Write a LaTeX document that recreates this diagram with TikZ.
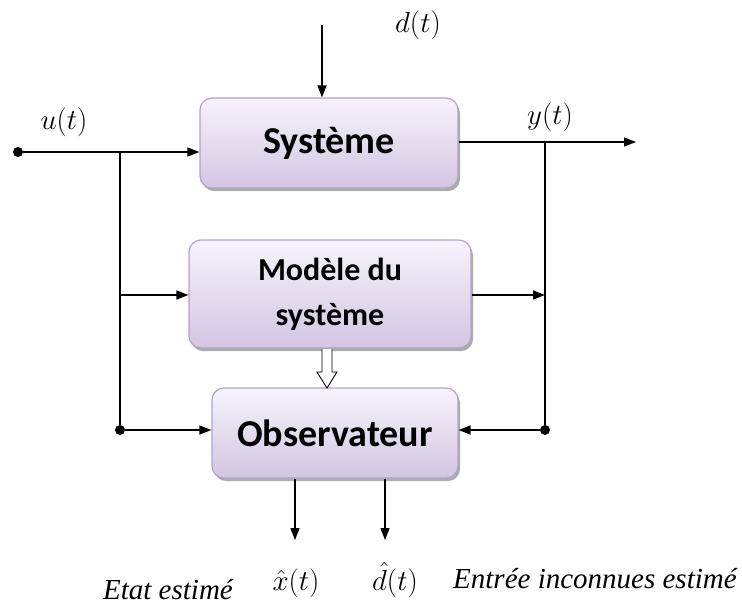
\documentclass[tikz,border=0pt]{standalone}
\usepackage{fix-cm}
\usepackage{fontspec}
\setsansfont{Carlito}
\newfontface\timesit{Liberation Serif Italic}
\usetikzlibrary{arrows.meta,shadows}
\begin{document}
\begin{tikzpicture}[x=1pt,y=-1pt,
  blk/.style={draw=boxborder,line width=1.2pt,rounded corners=12pt,top color=boxtop,bottom color=boxbot,
    drop shadow={shadow xshift=2pt,shadow yshift=-3pt,fill=black!55,opacity=0.6},
    font=\sffamily\bfseries,align=center,inner sep=0pt},
  wire/.style={line width=1.3pt,-{Triangle[length=12pt,width=9pt]}},
  plain/.style={line width=1.3pt},
  jdot/.style={circle,fill=black,inner sep=0pt,minimum size=10pt},
  lab/.style={font=\fontsize{29}{33}\selectfont,inner sep=1pt},
  itl/.style={font=\timesit\fontsize{29}{32}\selectfont,inner sep=1pt}]
\definecolor{boxtop}{HTML}{F7F3FB}
\definecolor{boxbot}{HTML}{D2C5E2}
\definecolor{boxborder}{HTML}{B4A2CC}
\useasboundingbox (0,0) rectangle (742,606);
% blocks
\node[blk,minimum width=258pt,minimum height=90pt,font=\sffamily\bfseries\fontsize{38}{40}\selectfont] (sys) at (329,143) {Système};
\node[blk,minimum width=282pt,minimum height=108pt,font=\sffamily\bfseries\fontsize{32}{45}\selectfont] (mod) at (330,294) {Modèle du\\système};
\node[blk,minimum width=246pt,minimum height=90pt,font=\sffamily\bfseries\fontsize{38}{40}\selectfont] (obs) at (335,433) {Observateur};
% junctions
\node[jdot] (in) at (18,152) {};
\node[jdot] (jl) at (120,430) {};
\node[jdot] (jr) at (545,430) {};
\coordinate (bl) at (120,152);
\coordinate (br) at (545,142);
\coordinate (out) at (636,142);
\coordinate (dtop) at (322,25);
\coordinate (mr) at (545,295);
\coordinate (ml) at (120,295);
\coordinate (x1) at (295,540);
\coordinate (x2) at (385,540);
% wires
\draw[wire] (in) -- (sys.west |- in);
\draw[plain] (bl) -- (jl);
\draw[wire] (ml) -- (mod.west |- ml);
\draw[wire] (jl) -- (obs.west |- jl);
\draw[wire] (dtop) -- (sys.north -| dtop);
\draw[wire] (sys.east |- br) -- (out);
\draw[plain] (br) -- (jr);
\draw[wire] (mod.east |- mr) -- (mr);
\draw[wire] (jr) -- (obs.east |- jr);
\draw[wire] (obs.south -| x1) -- (x1);
\draw[wire] (obs.south -| x2) -- (x2);
% hollow arrow
\draw[line width=0.9pt,fill=white] (322,349) -- (322,372) -- (317,372) -- (327,388) -- (337,372) -- (332,372) -- (332,349);
% labels
\node[lab] (ul) at (64,122) {$u(t)$};
\node[lab] (yl) at (550,117) {$y(t)$};
\node[lab] (dl) at (418,25) {$d(t)$};
\node[lab] (xh) at (296,583) {$\hat{x}(t)$};
\node[lab] (dh) at (395,580) {$\hat{d}(t)$};
\node[itl,anchor=east] (et) at (234,590) {Etat estimé};
\node[itl,anchor=west] (ei) at (452,579) {Entrée inconnues estimé};
\end{tikzpicture}
\end{document}
